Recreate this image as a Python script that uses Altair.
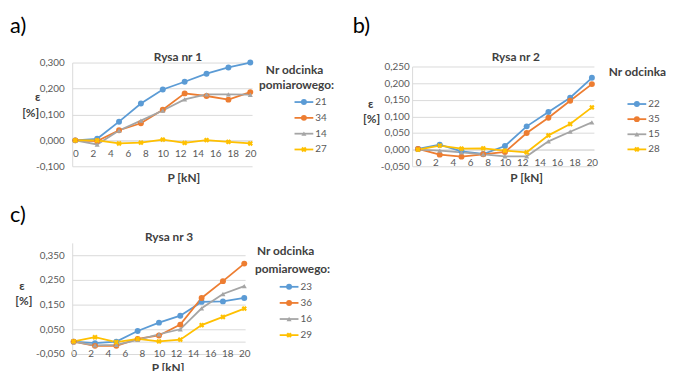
import altair as alt
import pandas as pd

W, H = 667, 363
FONT = "Lato"
GRID = "#D9D9D9"
LBL = "#595959"
DARK = "#404040"

# ---------------- data ----------------
P_KN = [0, 2.5, 5, 7.5, 10, 12.5, 15, 17.5, 20]
X_TICKS = [0, 2, 4, 6, 8, 10, 12, 14, 16, 18, 20]

NAMES_A = ["21", "34", "14", "27"]
A_21 = [0.000, 0.006, 0.072, 0.142, 0.196, 0.226, 0.257, 0.281, 0.300]
A_34 = [0.000, -0.003, 0.039, 0.066, 0.118, 0.181, 0.171, 0.157, 0.186]
A_14 = [0.000, -0.016, 0.038, 0.076, 0.115, 0.158, 0.177, 0.177, 0.176]
A_27 = [0.000, 0.000, -0.012, -0.009, 0.003, -0.010, 0.001, -0.006, -0.012]

NAMES_B = ["22", "35", "15", "28"]
B_22 = [0.002, 0.015, -0.005, -0.013, 0.011, 0.070, 0.113, 0.156, 0.216]
B_35 = [0.002, -0.015, -0.021, -0.014, -0.007, 0.050, 0.096, 0.147, 0.197]
B_15 = [0.000, -0.003, -0.008, -0.014, -0.020, -0.020, 0.025, 0.054, 0.082]
B_28 = [0.000, 0.012, 0.003, 0.004, -0.003, -0.008, 0.043, 0.077, 0.127]

NAMES_C = ["23", "36", "16", "29"]
C_23 = [0.000, -0.006, 0.000, 0.043, 0.077, 0.105, 0.161, 0.163, 0.177]
C_36 = [0.000, -0.017, -0.017, 0.011, 0.025, 0.069, 0.177, 0.245, 0.316]
C_16 = [0.000, -0.015, -0.013, 0.007, 0.030, 0.050, 0.135, 0.193, 0.225]
C_29 = [0.001, 0.018, -0.002, 0.011, 0.001, 0.008, 0.067, 0.100, 0.134]

Y_TICKS_A = [-0.1, 0.0, 0.1, 0.2, 0.3]
Y_TICKS_B = [-0.05, 0.0, 0.05, 0.1, 0.15, 0.2, 0.25]
Y_TICKS_C = [-0.05, 0.05, 0.15, 0.25, 0.35]

TITLES = ["Rysa nr 1", "Rysa nr 2", "Rysa nr 3"]
PANEL_LABELS = ["a)", "b)", "c)"]
Y_TITLE = ["ε", "[%]"]
X_TITLE = "P [kN]"
LEGEND_TITLE = ["Nr odcinka", "pomiarowego:"]

COLORS = ["#5B9BD5", "#ED7D31", "#A5A5A5", "#FFC000"]

LABEL_EXPR = "(datum.value < 0 ? '-' : '') + replace(format(abs(datum.value), '.3f'), '.', ',')"


def panel(names, series, xdom, xrng, ydom, yrng, yticks, ypad, xpad):
    rows = []
    for n, vals in zip(names, series):
        for p, v in zip(P_KN, vals):
            rows.append({"P": p, "eps": v, "s": n})
    df = pd.DataFrame(rows)
    y0 = yrng[0] + (0 - ydom[0]) / (ydom[1] - ydom[0]) * (yrng[1] - yrng[0])
    xs = alt.Scale(domain=xdom, range=xrng, nice=False, zero=False)
    ys = alt.Scale(domain=ydom, range=yrng, nice=False, zero=False)
    xax = alt.Axis(orient="bottom", offset=-(H - y0), values=X_TICKS, grid=False,
                   ticks=False, tickSize=0, labelPadding=xpad, labelBaseline="middle",
                   labelFlush=False, labelOverlap=False, labelBound=False,
                   domainColor=GRID, domainWidth=1, title=None, labelFont=FONT,
                   labelFontSize=10, labelColor=LBL)
    yax = alt.Axis(orient="left", offset=-xrng[0], values=yticks, grid=True,
                   gridColor=GRID, gridWidth=1, ticks=False, tickSize=0,
                   labelPadding=ypad, labelExpr=LABEL_EXPR, labelFlush=False,
                   labelOverlap=False, labelBound=False, domainColor=GRID,
                   domainWidth=1, title=None, labelFont=FONT, labelFontSize=10,
                   labelColor=LBL)
    base = alt.Chart(df).encode(
        x=alt.X("P:Q", scale=xs, axis=xax),
        y=alt.Y("eps:Q", scale=ys, axis=yax),
        color=alt.Color("s:N", scale=alt.Scale(domain=names, range=COLORS), legend=None),
    )
    line = base.mark_line(strokeWidth=1.8)
    circ = base.transform_filter(
        alt.FieldOneOfPredicate(field="s", oneOf=names[:2])
    ).mark_point(filled=True, size=36, opacity=1, shape="circle")
    tri = base.transform_filter(
        alt.FieldEqualPredicate(field="s", equal=names[2])
    ).mark_point(filled=True, size=26, opacity=1, shape="triangle-up")
    crs = base.transform_filter(
        alt.FieldEqualPredicate(field="s", equal=names[3])
    ).mark_point(filled=True, size=30, opacity=1, shape="cross", angle=45)
    return alt.layer(line, circ, tri, crs)


pa = panel(NAMES_A, [A_21, A_34, A_14, A_27], [-0.35, 20.2], [65, 247],
           [-0.1, 0.3], [158, 53], Y_TICKS_A, 8, 13)
pb = panel(NAMES_B, [B_22, B_35, B_15, B_28], [-0.68, 20.23], [409, 593],
           [-0.05, 0.25], [158, 57], Y_TICKS_B, 3, 13.5)
pc = panel(NAMES_C, [C_23, C_36, C_16, C_29], [-0.17, 20.1], [65, 240],
           [-0.05, 0.4], [348, 235.5], Y_TICKS_C, 8, 12.5)

# ---------------- annotations (layout) ----------------
big = pd.DataFrame({"x": [2, 349, 2], "y": [16, 16, 207], "text": PANEL_LABELS})
bold_c = pd.DataFrame({
    "x": [172, 514, 163, 30, 23, 367, 368, 14, 16, 178, 525, 162],
    "y": [47, 47, 229.5, 88, 104, 95, 110, 279, 294, 170, 170, 362],
    "text": TITLES + Y_TITLE * 3 + [X_TITLE] * 3,
})
bold_l = pd.DataFrame({
    "x": [261, 254, 608, 252, 250],
    "y": [61, 76, 63, 244, 262],
    "text": LEGEND_TITLE + [LEGEND_TITLE[0]] + LEGEND_TITLE,
})

leg_rows = []
for names, lx, ly, step in [(NAMES_A, 290, 93, 16), (NAMES_B, 627, 95, 15.3),
                            (NAMES_C, 275, 280, 16.3)]:
    for i, n in enumerate(names):
        leg_rows.append({"x": lx, "x2": lx + 19, "xm": lx + 9.5, "xl": lx + 21,
                         "y": ly + step * i, "text": n, "c": COLORS[i], "k": i})
leg = pd.DataFrame(leg_rows)


def txt(df, **kw):
    return alt.Chart(df).mark_text(font=FONT, baseline="middle", **kw).encode(
        x=alt.X("x:Q", scale=None, axis=None),
        y=alt.Y("y:Q", scale=None, axis=None),
        text="text:N",
    )


t_big = txt(big, fontSize=22, align="left", color="#000000")
t_bc = txt(bold_c, fontSize=12, fontWeight="bold", align="center", color=DARK)
t_bl = txt(bold_l, fontSize=12, fontWeight="bold", align="left", color=DARK)

leg_line = alt.Chart(leg).mark_rule(strokeWidth=1.8).encode(
    x=alt.X("x:Q", scale=None, axis=None), x2="x2:Q",
    y=alt.Y("y:Q", scale=None, axis=None),
    color=alt.Color("c:N", scale=None),
)
leg_base = alt.Chart(leg).encode(
    x=alt.X("xm:Q", scale=None, axis=None),
    y=alt.Y("y:Q", scale=None, axis=None),
    color=alt.Color("c:N", scale=None),
)
leg_circ = leg_base.transform_filter("datum.k < 2").mark_point(
    filled=True, size=36, opacity=1, shape="circle")
leg_tri = leg_base.transform_filter("datum.k == 2").mark_point(
    filled=True, size=26, opacity=1, shape="triangle-up")
leg_crs = leg_base.transform_filter("datum.k == 3").mark_point(
    filled=True, size=30, opacity=1, shape="cross", angle=45)
leg_txt = alt.Chart(leg).mark_text(font=FONT, fontSize=10, align="left",
                                   baseline="middle", color=LBL).encode(
    x=alt.X("xl:Q", scale=None, axis=None),
    y=alt.Y("y:Q", scale=None, axis=None),
    text="text:N",
)

chart = alt.layer(
    pa, pb, pc, t_big, t_bc, t_bl, leg_line, leg_circ, leg_tri, leg_crs, leg_txt
).resolve_scale(
    x="independent", y="independent", color="independent"
).properties(
    width=W, height=H, padding=0,
    autosize=alt.AutoSizeParams(type="none"),
    background="#FFFFFF",
).configure_view(strokeWidth=0)

chart.save("out.html", embed_options={"renderer": "svg", "actions": False})
